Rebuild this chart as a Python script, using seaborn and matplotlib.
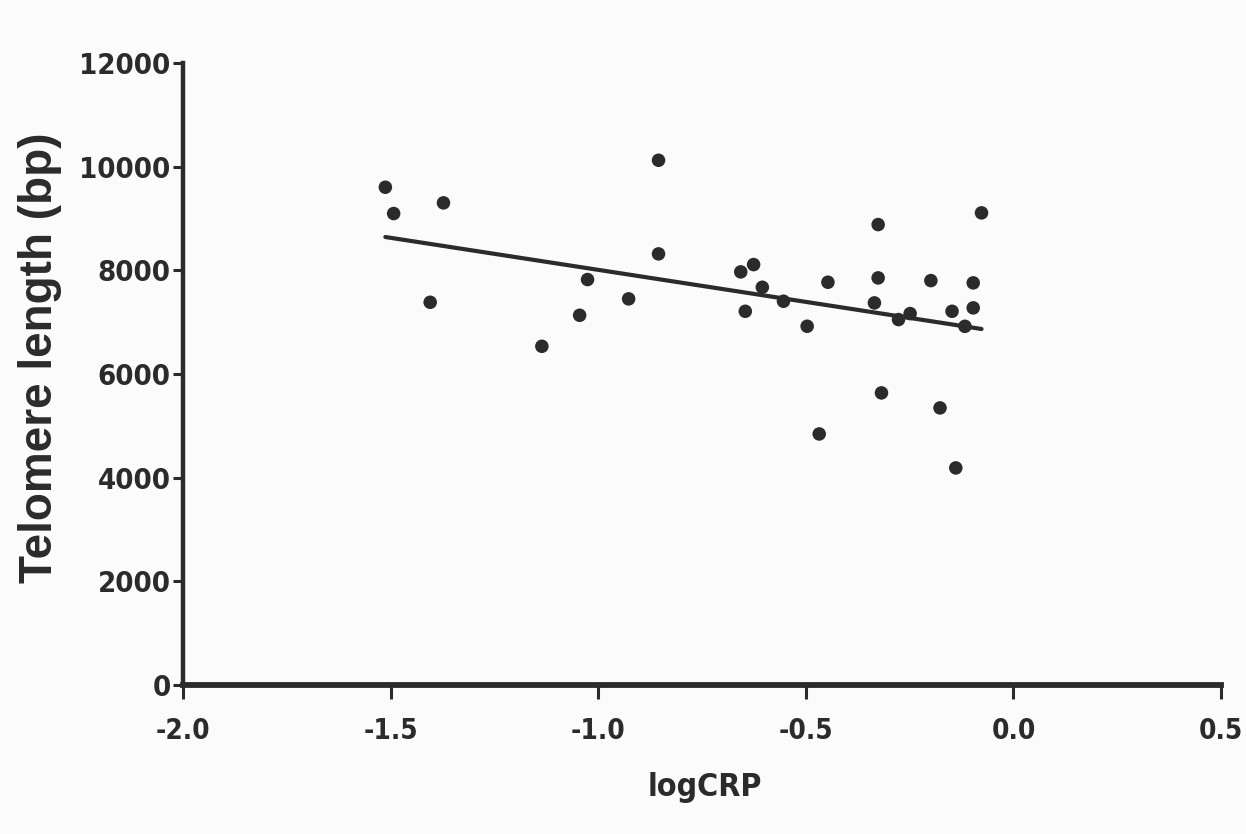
import matplotlib
matplotlib.use("Agg")
import matplotlib.pyplot as plt
from matplotlib import font_manager
import numpy as np
import pandas as pd
import seaborn as sns

# values
log_crp = [-1.513, -1.493, -1.373, -1.405, -1.136, -1.045, -1.026, -0.927,
           -0.855, -0.855, -0.657, -0.626, -0.605, -0.646, -0.554, -0.497,
           -0.447, -0.468, -0.326, -0.326, -0.335, -0.318, -0.277, -0.249,
           -0.199, -0.148, -0.097, -0.097, -0.117, -0.077, -0.177, -0.139]
telomere = [9608, 9100, 9306, 7386, 6536, 7135, 7825, 7452,
            10129, 8321, 7973, 8114, 7676, 7212, 7406, 6923,
            7773, 4843, 8887, 7857, 7374, 5636, 7052, 7168,
            7805, 7212, 7761, 7278, 6922, 9113, 5346, 4187]

xticks = [-2.0, -1.5, -1.0, -0.5, 0.0, 0.5]
yticks = [0, 2000, 4000, 6000, 8000, 10000, 12000]

df = pd.DataFrame({"logCRP": log_crp, "telomere": telomere})

sns.set_style("ticks")
plt.rcParams['font.family'] = ['Liberation Sans', 'DejaVu Sans']

# narrow bold face for the numbers (condensed look of the original)
narrow_file = font_manager.findfont(font_manager.FontProperties(
    family="DejaVu Sans", stretch="condensed", weight="bold"))

ink = "#2b2b2b"
fig = plt.figure(figsize=(12.46, 8.34), dpi=100)
fig.patch.set_facecolor("#fbfbfb")
ax = fig.add_axes([0.147, 0.179, 0.833, 0.745])
ax.set_facecolor("#fbfbfb")

sns.regplot(data=df, x="logCRP", y="telomere", ci=None, ax=ax,
            scatter_kws={"s": 95, "color": ink, "edgecolor": "none", "alpha": 1},
            line_kws={"color": ink, "lw": 3})

ax.set_xlim(-2.0, 0.5)
ax.set_ylim(0, 12000)
ax.set_xticks(xticks)
ax.set_yticks(yticks)
ax.set_xticklabels([f"{t:.1f}" for t in xticks])
ax.set_yticklabels([str(t) for t in yticks])

for lab in ax.get_yticklabels():
    lab.set_fontproperties(font_manager.FontProperties(fname=narrow_file, size=21))
    lab.set_color(ink)
for lab in ax.get_xticklabels():
    lab.set_fontproperties(font_manager.FontProperties(fname=narrow_file, size=20))
    lab.set_color(ink)

ax.tick_params(axis="y", length=7, width=2.2, color=ink, pad=2)
ax.tick_params(axis="x", length=10, width=2.2, color=ink, pad=13)

sns.despine(ax=ax)
ax.spines["left"].set_linewidth(3.2)
ax.spines["bottom"].set_linewidth(4.2)
ax.spines["left"].set_color(ink)
ax.spines["bottom"].set_color(ink)

ax.set_xlabel("logCRP", fontproperties=font_manager.FontProperties(fname=narrow_file, size=23),
              color=ink)
ax.xaxis.set_label_coords(0.503, -0.140)
ax.set_ylabel("Telomere length (bp)", fontsize=33, fontweight="bold", color=ink)
ax.yaxis.set_label_coords(-0.117, 0.527)

plt.savefig("out.png", dpi=100, facecolor=fig.get_facecolor())
